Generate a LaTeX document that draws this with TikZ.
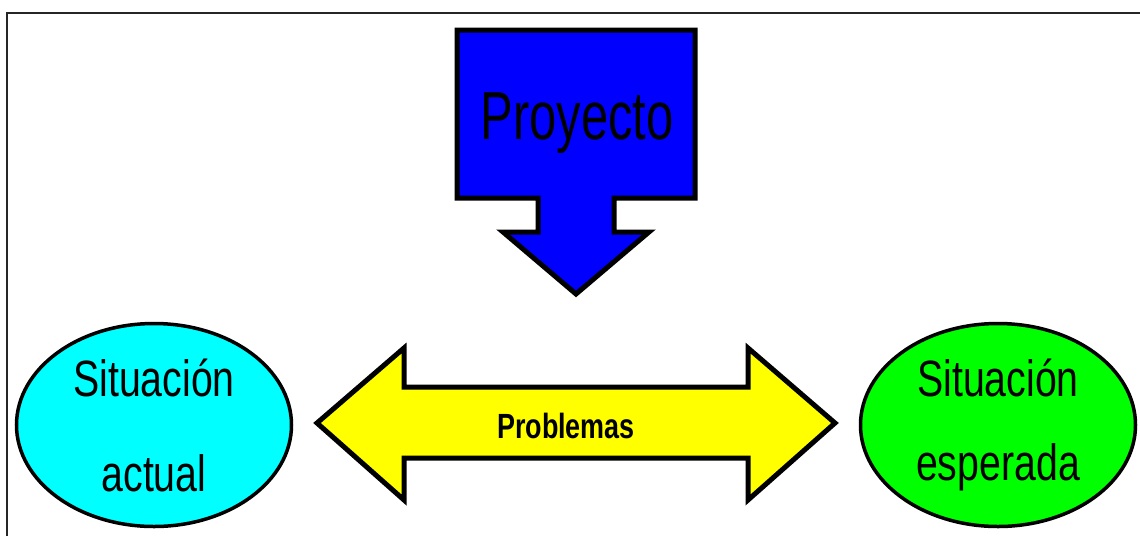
\documentclass[tikz,border=0pt]{standalone}
\usepackage{fontspec}
\setmainfont{Liberation Sans}
\newfontfamily\angosta[FakeStretch=0.77]{Liberation Sans}
\newfontfamily\titular[FakeStretch=0.72]{Liberation Sans}
\newfontfamily\rotulo[FakeStretch=0.77]{Liberation Sans}
\usetikzlibrary{shapes.geometric,positioning}
\definecolor{celeste}{RGB}{0,255,255}
\definecolor{verde}{RGB}{0,255,0}
\definecolor{azul}{RGB}{0,0,255}
\definecolor{amarillo}{RGB}{255,255,0}

\begin{document}
\begin{tikzpicture}[x=1pt,y=-1pt,
	situacion/.style={ellipse, draw, line width=3.5pt, minimum width=275pt, minimum height=203pt,
		inner sep=0pt, align=center, font=\angosta\fontsize{51}{#1}\selectfont},
	flecha/.style={draw, line width=5pt, line join=miter}]
	\useasboundingbox (0,0) rectangle (1140,536);
	\draw[line width=2pt, black!85] (7,536) |- (1140,13);
	
	\draw[flecha, fill=azul] (457,30) -- (695,30) -- (695,198) -- (614,198) -- (614,232) -- (649,232)
		-- (576,294) -- (503,232) -- (538,232) -- (538,198) -- (457,198) -- cycle;
	\node [anchor=base, font=\titular\fontsize{68}{68}\selectfont] (proyecto) at (577,139) {Proyecto};
	
	\draw[flecha, fill=amarillo] (317,423) -- (404,348) -- (404,387) -- (748,387) -- (748,348) -- (835,423)
		-- (748,500) -- (748,458) -- (404,458) -- (404,500) -- cycle;
	\node [anchor=base, font=\rotulo\bfseries\fontsize{35}{35}\selectfont] (problemas) at (566,438) {Problemas};
	
	\node [situacion=95, fill=celeste] (actual) at (154,425) {Situación\\actual};
	\node [situacion=84, fill=verde] (esperada) at (998,425) {Situación\\esperada};
	
\end{tikzpicture}
\end{document}
